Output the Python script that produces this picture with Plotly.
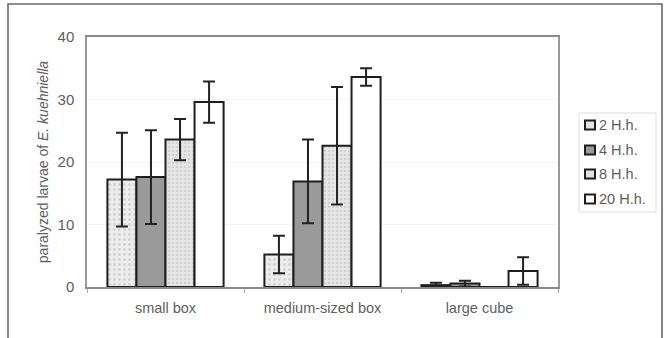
import plotly.graph_objects as go

# Paralyzed larvae per container type and exposure time
categories = ["small box", "medium-sized box", "large cube"]
series_names = ["2 H.h.", "4 H.h.", "8 H.h.", "20 H.h."]
means = {
    "2 H.h.": [17.2, 5.2, 0.3],
    "4 H.h.": [17.6, 16.9, 0.55],
    "8 H.h.": [23.6, 22.6, 0.0],
    "20 H.h.": [29.6, 33.6, 2.55],
}
errors = {
    "2 H.h.": [7.5, 3.0, 0.4],
    "4 H.h.": [7.5, 6.7, 0.45],
    "8 H.h.": [3.3, 9.4, 0.0],
    "20 H.h.": [3.3, 1.4, 2.2],
}
y_ticks = [0, 10, 20, 30, 40]

TEXT = "#5e5e5e"
styles = {
    "2 H.h.": dict(color="#ececec", pattern=dict(shape=".", fgcolor="#b8b8b8", bgcolor="#ededed", size=5, solidity=0.25)),
    "4 H.h.": dict(color="#9a9a9a", pattern=dict(shape="", fgcolor="#9a9a9a", bgcolor="#9a9a9a")),
    "8 H.h.": dict(color="#e6e6e6", pattern=dict(shape=".", fgcolor="#bdbdbd", bgcolor="#e6e6e6", size=4, solidity=0.3)),
    "20 H.h.": dict(color="#ffffff", pattern=dict(shape="", fgcolor="#ffffff", bgcolor="#ffffff")),
}

fig = go.Figure()
for name in series_names:
    st = styles[name]
    fig.add_trace(go.Bar(
        name=name,
        x=categories,
        y=means[name],
        marker=dict(color=st["color"], pattern=st["pattern"],
                    line=dict(color="#1e1e1e", width=2)),
        error_y=dict(type="data", array=errors[name], visible=True,
                     color="#222222", thickness=2, width=6),
        showlegend=False,
    ))

# plot-area geometry (pixels) used to place overlay items in paper units
L, R, T, B = 87, 558, 37, 287
def px(x):
    return (x - L) / (R - L)
def py(y):
    return (B - y) / (B - T)

shapes = []
annotations = []

# outer frame around the whole figure
shapes.append(dict(type="rect", xref="paper", yref="paper",
                   x0=px(8), x1=px(662), y0=py(345), y1=py(4),
                   line=dict(color="#6a6a6a", width=1.6), layer="below"))

# legend box
shapes.append(dict(type="rect", xref="paper", yref="paper",
                   x0=px(579), x1=px(656), y0=py(212), y1=py(113),
                   line=dict(color="#dddddd", width=1)))
legend_y = [125, 150, 174, 199]
legend_fill = ["#e4e4e4", "#9a9a9a", "#e0e0e0", "#ffffff"]
for name, yc, fill in zip(series_names, legend_y, legend_fill):
    shapes.append(dict(type="rect", xref="paper", yref="paper",
                       x0=px(585), x1=px(595), y0=py(yc + 4.5), y1=py(yc - 4.5),
                       fillcolor=fill, line=dict(color="#1e1e1e", width=2)))
    annotations.append(dict(xref="paper", yref="paper", x=px(597), y=py(yc),
                            xanchor="left", yanchor="middle", showarrow=False,
                            text=name, font=dict(size=14.5, color=TEXT)))

fig.update_layout(
    width=664, height=338,
    margin=dict(l=L, r=664 - R, t=T, b=338 - B),
    paper_bgcolor="white", plot_bgcolor="white",
    barmode="group", bargap=0.26, bargroupgap=0,
    font=dict(family="Liberation Sans, Arial, sans-serif", size=14, color=TEXT),
    showlegend=False,
    shapes=shapes,
    annotations=annotations,
    xaxis=dict(
        showline=True, linecolor="#8a8a8a", linewidth=2, mirror=True,
        ticks="outside", tickson="boundaries", ticklen=4, tickcolor="#aaaaaa",
        ticklabelstandoff=7, showgrid=False,
        tickfont=dict(size=14.5, color=TEXT),
    ),
    yaxis=dict(
        range=[0, 40], tickvals=y_ticks,
        showline=True, linecolor="#9a9a9a", linewidth=1.5, mirror=True,
        showgrid=True, gridcolor="#f4f4f4", gridwidth=1,
        zeroline=False, ticks="", ticklabelstandoff=8,
        tickfont=dict(size=15, color=TEXT),
        title=dict(text="paralyzed larvae of <i>E. kuehniella</i>",
                   font=dict(size=14, color=TEXT), standoff=6),
    ),
)

fig.write_html("out.html")
